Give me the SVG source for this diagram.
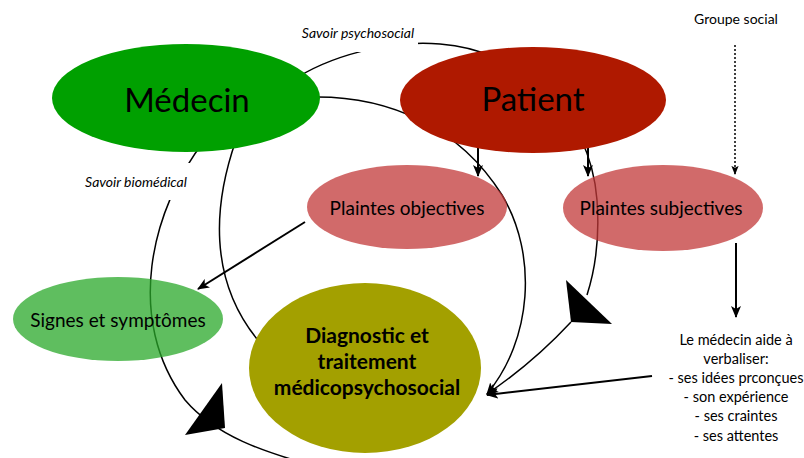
<svg xmlns="http://www.w3.org/2000/svg" width="804" height="458" viewBox="0 0 804 458">
<style>
.cv{fill:none;stroke:#000;stroke-width:1.5}
.ar{fill:none;stroke:#000;stroke-width:2}
.t{font-family:Lato,"Open Sans","DejaVu Sans",sans-serif;fill:#000;text-anchor:middle}
.it{font-style:italic;font-size:14px}
.sm{font-size:14px}
.rt{font-size:14.5px}
.md{font-size:19px}
.lg{font-size:33px}
.bd{font-size:21px;font-weight:bold}
.tri{fill:#000}
</style>
<defs>
<marker id="ah" viewBox="0 0 12 10" refX="11" refY="5" markerWidth="12" markerHeight="10" markerUnits="userSpaceOnUse" orient="auto">
<path d="M0,0 L12,5 L0,10 L3,5 z" fill="#000"/>
</marker>
<marker id="ahs" viewBox="0 0 10 8" refX="9" refY="4" markerWidth="9" markerHeight="8" markerUnits="userSpaceOnUse" orient="auto">
<path d="M0,0 L10,4 L0,8 L2,4 z" fill="#000"/>
</marker>
</defs>

<g id="connectors">
<path class="cv" d="M290,82 C330,55 390,40 440,44 C520,50 590,110 597,200 C600,240 595,270 587,295"/>
<path class="cv" d="M571,322 C545,350 515,375 487,394" marker-end="url(#ah)"/>
<path class="cv" d="M205,140 C150,210 125,320 185,400 C215,435 260,452 330,470"/>
<path class="cv" d="M236,140 C215,200 205,280 262,345"/>
<path class="cv" d="M310,97 C390,95 460,128 502,195 C538,255 532,340 487,394" marker-end="url(#ah)"/>
<path class="ar" d="M652,376 L487,395" marker-end="url(#ah)"/>
<path class="ar" d="M478,147 L478,176" marker-end="url(#ah)"/>
<path class="ar" d="M588,147 L588,176" marker-end="url(#ah)"/>
<path class="ar" d="M305,222 L198,289" marker-end="url(#ah)"/>
<path class="ar" d="M736,243 L736,317" marker-end="url(#ah)"/>
<path fill="none" stroke="#000" stroke-width="1.5" stroke-dasharray="2,2" d="M735,45 L735,174" marker-end="url(#ahs)"/>
<polygon class="tri" points="566,280 612,324 571,322"/>
<polygon class="tri" points="222,383 185,435 225,428"/>
</g>

<g id="label-psychosocial">
<rect x="298" y="18" width="120" height="34" fill="#fff"/>
<text class="t it" x="358" y="38">Savoir psychosocial</text>
</g>
<g id="label-biomedical">
<rect x="83" y="163" width="107" height="37" fill="#fff"/>
<text class="t it" x="136" y="187">Savoir biomédical</text>
</g>

<g id="medecin">
<ellipse cx="186" cy="98" rx="134" ry="54" fill="#00A000"/>
<text class="t lg" x="187" y="112">Médecin</text>
</g>
<g id="patient">
<ellipse cx="533" cy="100" rx="133" ry="53" fill="#AF1900"/>
<text class="t lg" x="533" y="111">Patient</text>
</g>
<g id="plaintes-objectives">
<ellipse cx="407" cy="207" rx="100" ry="42" fill="#C23838" fill-opacity="0.75"/>
<text class="t md" x="407" y="215">Plaintes objectives</text>
</g>
<g id="plaintes-subjectives">
<ellipse cx="663" cy="208" rx="100" ry="43" fill="#C23838" fill-opacity="0.75"/>
<text class="t md" x="661" y="215">Plaintes subjectives</text>
</g>
<g id="signes">
<ellipse cx="118" cy="319" rx="105" ry="42" fill="#2AA82A" fill-opacity="0.75"/>
<text class="t md" x="118" y="327">Signes et symptômes</text>
</g>
<g id="diagnostic">
<ellipse cx="365" cy="368" rx="116" ry="85" fill="#A3A000"/>
<text class="t bd" x="367" y="343">Diagnostic et</text>
<text class="t bd" x="367" y="369">traitement</text>
<text class="t bd" x="367" y="395">médicopsychosocial</text>
</g>
<g id="groupe-social">
<text class="t sm" x="736" y="24">Groupe social</text>
</g>
<g id="verbaliser">
<text class="t rt" x="736" y="345">Le médecin aide à</text>
<text class="t rt" x="736" y="364">verbaliser:</text>
<text class="t rt" x="736" y="383">- ses idées prconçues</text>
<text class="t rt" x="736" y="402">- son expérience</text>
<text class="t rt" x="736" y="421">- ses craintes</text>
<text class="t rt" x="736" y="441">- ses attentes</text>
</g>
</svg>
